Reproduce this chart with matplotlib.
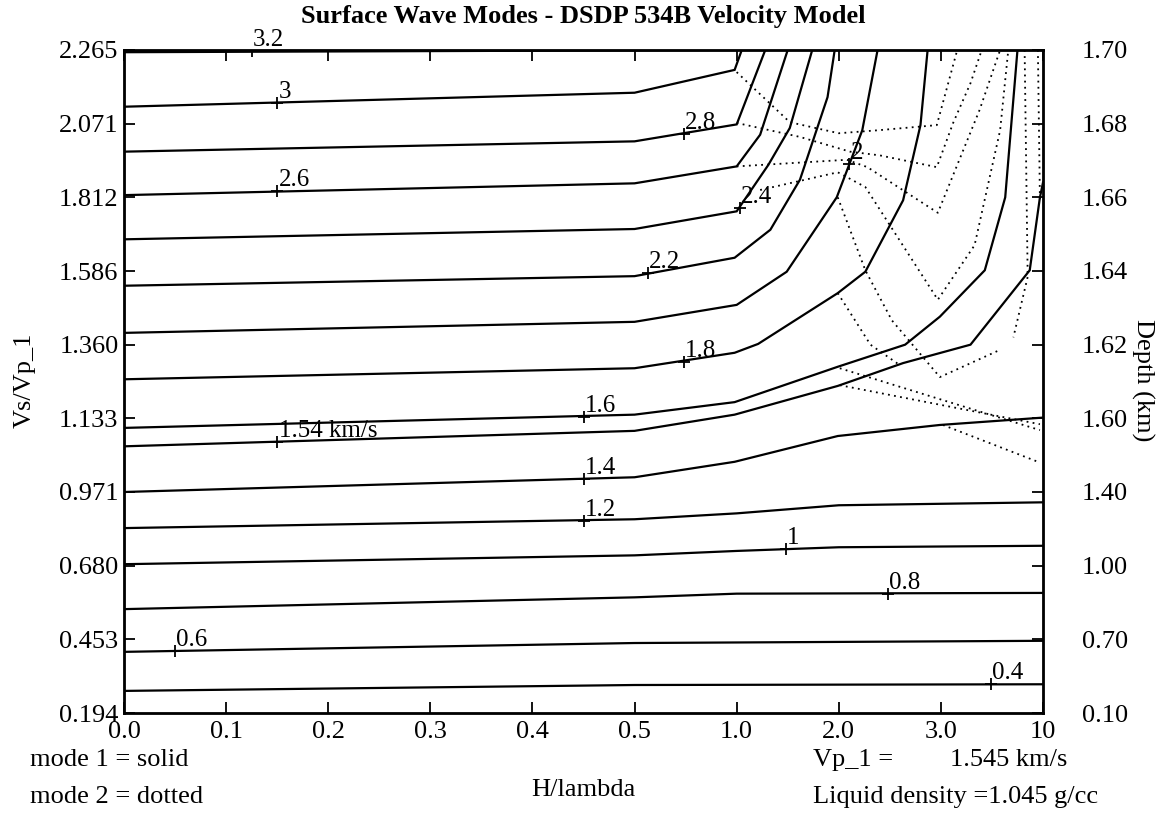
import matplotlib.pyplot as plt

plt.rcParams['font.family'] = ['Liberation Serif', 'DejaVu Serif']

# grid columns are H/lambda values, grid rows are Vs/Vp_1 (left) and depth (right)
x_ticklabels = ['0.0', '0.1', '0.2', '0.3', '0.4', '0.5', '1.0', '2.0', '3.0', '10']
vs_labels = ['0.194', '0.453', '0.680', '0.971', '1.133', '1.360', '1.586', '1.812', '2.071', '2.265']
depth_labels = ['0.10', '0.70', '1.00', '1.40', '1.60', '1.62', '1.64', '1.66', '1.68', '1.70']

# mode 1 contours (phase velocity, km/s), points in grid units (column, row)
mode1 = {
    3.2: [(0, 8.97), (6.0, 9.0)],
    3.0: [(0, 8.23), (5, 8.42), (5.98, 8.73), (6.05, 9.0)],
    2.8: [(0, 7.62), (5, 7.76), (6.0, 7.99), (6.28, 9.0)],
    2.6: [(0, 7.03), (5, 7.19), (6.0, 7.42), (6.23, 7.85), (6.5, 9.0)],
    2.4: [(0, 6.43), (5, 6.57), (6.0, 6.81), (6.31, 7.44), (6.52, 7.94), (6.74, 9.0)],
    2.2: [(0, 5.80), (5, 5.93), (5.98, 6.18), (6.33, 6.56), (6.62, 7.24), (6.89, 8.36), (6.96, 9.0)],
    2.0: [(0, 5.16), (5, 5.31), (6.0, 5.54), (6.49, 5.99), (6.98, 7.0), (7.23, 7.91), (7.38, 9.0)],
    1.8: [(0, 4.53), (5, 4.68), (5.98, 4.89), (6.21, 5.01), (6.99, 5.70), (7.26, 5.99),
          (7.63, 6.96), (7.80, 7.98), (7.87, 9.0)],
    1.6: [(0, 3.87), (5, 4.05), (5.98, 4.22), (6.99, 4.70), (7.65, 5.0), (7.99, 5.38),
          (8.43, 6.01), (8.63, 7.0), (8.75, 9.0)],
    1.54: [(0, 3.62), (5, 3.83), (5.98, 4.05), (6.99, 4.44), (7.63, 4.75), (8.29, 5.0),
           (8.87, 6.01), (8.97, 7.0), (9.0, 7.2)],
    1.4: [(0, 3.0), (5, 3.20), (5.98, 3.41), (6.99, 3.76), (7.99, 3.91), (9, 4.01)],
    1.2: [(0, 2.51), (5, 2.63), (6, 2.71), (7, 2.82), (9, 2.86)],
    1.0: [(0, 2.02), (5, 2.14), (6, 2.20), (7, 2.25), (9, 2.27)],
    0.8: [(0, 1.41), (5, 1.57), (6, 1.62), (9, 1.63)],
    0.6: [(0, 0.83), (5, 0.95), (9, 0.98)],
    0.4: [(0, 0.30), (5, 0.38), (9, 0.39)],
}

# mode 2 contours (dotted)
mode2 = [
    [(6.0, 8.70), (6.52, 8.02), (7.0, 7.87), (7.38, 7.91), (7.96, 7.98), (8.16, 9.0)],
    [(6.0, 8.01), (6.62, 7.82), (7.11, 7.62), (7.40, 7.57), (7.96, 7.41), (8.12, 8.01),
     (8.29, 8.55), (8.40, 9.0)],
    [(6.0, 7.42), (7.08, 7.51), (7.28, 7.41), (7.97, 6.79), (8.38, 8.19), (8.58, 9.0)],
    [(6.23, 7.10), (6.99, 7.34), (7.26, 7.14), (7.97, 5.61), (8.33, 6.35), (8.58, 7.91), (8.66, 9.0)],
    [(6.99, 7.0), (7.26, 6.01), (7.52, 5.33), (7.99, 4.56), (8.58, 4.93)],
    [(6.99, 5.70), (7.31, 5.0), (7.60, 4.72)],
    [(7.01, 4.68), (8.97, 3.84)],
    [(7.01, 4.45), (8.97, 3.92)],
    [(8.02, 3.91), (8.95, 3.41)],
    [(8.82, 9.0), (8.85, 5.92), (8.71, 5.10)],
    [(8.95, 9.0), (8.97, 6.96)],
]

# contour labels: level text, column, row
label_text = ['3.2', '3', '2.8', '2.6', '2.4', '2.2', '2', '1.8', '1.6', '1.54 km/s',
              '1.4', '1.2', '1', '0.8', '0.6', '0.4']
label_x = [1.25, 1.5, 5.48, 1.5, 6.03, 5.13, 7.1, 5.48, 4.5, 1.5, 4.5, 4.5, 6.48, 7.48, 0.5, 8.49]
label_y = [8.98, 8.28, 7.86, 7.08, 6.85, 5.97, 7.45, 4.76, 4.02, 3.68, 3.18, 2.61, 2.23, 1.62, 0.84, 0.39]

FS = 19

fig = plt.figure(figsize=(11.67, 8.14), dpi=100)
ax = fig.add_axes([124 / 1167, 1 - 713 / 814, (1043 - 124) / 1167, (713 - 50) / 814])

for level, pts in mode1.items():
    xs, ys = zip(*pts)
    ax.plot(xs, ys, color='black', lw=1.6, solid_joinstyle='miter')
for pts in mode2:
    xs, ys = zip(*pts)
    ax.plot(xs, ys, color='black', lw=1.3, linestyle=(0, (1, 2.4)))

ax.plot(label_x, label_y, '+', color='black', ms=8, mew=1.3)
for t, x, y in zip(label_text, label_x, label_y):
    ax.annotate(t, (x, y), xytext=(1, 0), textcoords='offset points',
                fontsize=FS - 1, ha='left', va='bottom')

ax.set_xlim(0, 9)
ax.set_ylim(0, 9)
ax.set_xticks(range(10))
ax.set_xticklabels(x_ticklabels, fontsize=FS)
ax.set_yticks(range(10))
ax.set_yticklabels(vs_labels, fontsize=FS)
ax.tick_params(axis='x', direction='in', length=8, width=1.3, top=True, pad=6)
ax.tick_params(axis='y', direction='in', length=8, width=1.3, pad=4)
for s in ax.spines.values():
    s.set_linewidth(2)

ax2 = ax.twinx()
ax2.set_ylim(0, 9)
ax2.set_yticks(range(10))
ax2.set_yticklabels(depth_labels, fontsize=FS)
ax2.tick_params(direction='in', length=8, width=1.3, pad=28)

fig.text(1143 / 1167, 1 - 380 / 814, 'Depth (km)', fontsize=FS, rotation=270,
         ha='center', va='center')
fig.text(25 / 1167, 1 - 380 / 814, 'Vs/Vp_1', fontsize=FS, rotation=90,
         ha='center', va='center')
fig.text(583 / 1167, 1 - 16 / 814, 'Surface Wave Modes - DSDP 534B Velocity Model', fontsize=FS,
         fontweight='bold', ha='center', va='center')
fig.text(583 / 1167, 1 - 790 / 814, 'H/lambda', fontsize=FS, ha='center', va='center')
fig.text(30 / 1167, 1 - 760 / 814, 'mode 1 = solid', fontsize=FS, ha='left', va='center')
fig.text(30 / 1167, 1 - 797 / 814, 'mode 2 = dotted', fontsize=FS, ha='left', va='center')
fig.text(813 / 1167, 1 - 760 / 814, 'Vp_1 =', fontsize=FS, ha='left', va='center')
fig.text(950 / 1167, 1 - 760 / 814, '1.545 km/s', fontsize=FS, ha='left', va='center')
fig.text(813 / 1167, 1 - 797 / 814, 'Liquid density =1.045 g/cc', fontsize=FS, ha='left', va='center')

fig.savefig('out.png', dpi=100)
